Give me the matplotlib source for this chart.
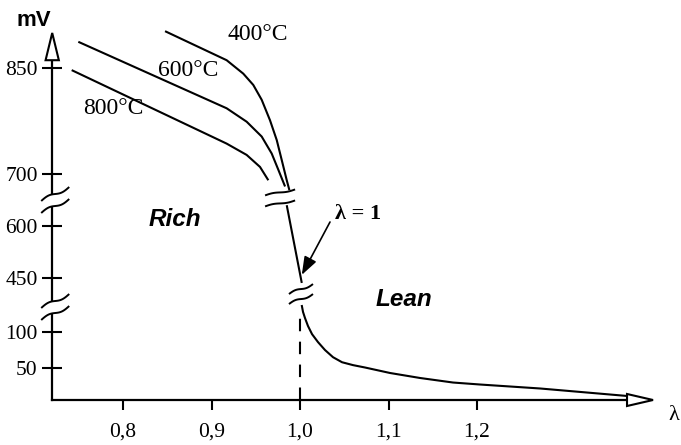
import numpy as np
import matplotlib
matplotlib.use("Agg")
import matplotlib.pyplot as plt
from matplotlib.patches import Polygon
from matplotlib.transforms import IdentityTransform

# sensor voltage (mV) vs air ratio lambda
lam_400 = [0.8475, 0.9171, 0.9359, 0.9472, 0.9567, 0.9661, 0.9737, 0.9793, 0.9850, 0.9880]
mv_400 = [902, 861, 842, 826, 805, 776, 748, 720, 688, 669]
lam_600 = [0.7495, 0.9171, 0.9397, 0.9567, 0.9680, 0.9755, 0.9831]
mv_600 = [887, 793, 774, 753, 729, 706, 676]
lam_800 = [0.742, 0.9171, 0.9397, 0.9548, 0.9642]
mv_800 = [847, 743, 727, 710, 688]
lam_jump = [0.985, 1.002]
mv_jump = [640, 418]
lam_lean = [1.0019, 1.0034, 1.0056, 1.0090, 1.0136, 1.0203, 1.0282, 1.0373, 1.0475,
            1.0599, 1.0734, 1.1017, 1.1356, 1.1729, 1.2034, 1.2712, 1.3695]
mv_lean = [275, 230, 191, 139, 97, 86, 75, 65, 58, 54, 50.7, 42.2, 34.4, 27.3, 24.2, 18, 6.3]

x_ticks = [0.8, 0.9, 1.0, 1.1, 1.2]
x_labels = ["0,8", "0,9", "1,0", "1,1", "1,2"]
y_ticks = [50, 100, 450, 600, 700, 850]
y_labels = ["50", "100", "450", "600", "700", "850"]

# broken y axis: every segment has its own scale
MV_KNOTS = [-200, 0, 50, 100, 450, 600, 700, 850, 1100]
U_KNOTS = [-128, 0, 32, 68, 122, 174, 226, 332, 509]


def fwd(v):
    return np.interp(v, MV_KNOTS, U_KNOTS)


def inv(u):
    return np.interp(u, U_KNOTS, MV_KNOTS)


def draw_break(ax, x, y, half_w, gap, rise, xoff=0.0, lw=1.4):
    cx, cy = ax.transData.transform((x, y))
    cx += xoff
    t = np.linspace(-1, 1, 40)
    dx = cx + half_w * t
    dy = cy + rise * (t - 0.8 / np.pi * np.sin(np.pi * t))
    verts = np.vstack([np.column_stack([dx, dy + gap / 2]),
                       np.column_stack([dx[::-1], dy[::-1] - gap / 2])])
    ax.add_patch(Polygon(verts, closed=True, fc="white", ec="none",
                         transform=IdentityTransform(), zorder=5))
    for off in (gap / 2, -gap / 2):
        ax.plot(dx, dy + off, color="black", lw=lw, transform=IdentityTransform(),
                zorder=6, solid_capstyle="butt")


serif = "Liberation Serif"
sans = "Liberation Sans"

fig = plt.figure(figsize=(6.81, 4.45), dpi=100)
ax = fig.add_axes([0, 0, 1, 1])
ax.set_yscale("function", functions=(fwd, inv))
ax.set_xlim(0.661, 1.4305)
ax.set_ylim(inv(-45), inv(400))

for s in ("top", "right"):
    ax.spines[s].set_visible(False)
ax.spines["left"].set_position(("data", 0.72))
ax.spines["left"].set_bounds(0, 861)
ax.spines["bottom"].set_position(("data", 0))
ax.spines["bottom"].set_bounds(0.72, 1.3695)
for s in ("left", "bottom"):
    ax.spines[s].set_linewidth(1.6)

ax.set_xticks(x_ticks, x_labels, fontfamily=serif, fontsize=15.5)
ax.set_yticks(y_ticks, y_labels, fontfamily=serif, fontsize=15.5)
ax.tick_params(axis="x", direction="out", length=7, width=1.5, pad=9)
ax.tick_params(axis="y", direction="inout", length=14, width=1.5, pad=3.5)

kw = dict(color="black", lw=1.5, solid_capstyle="butt", solid_joinstyle="round")
ax.plot(lam_400, mv_400, **kw)
ax.plot(lam_600, mv_600, **kw)
ax.plot(lam_800, mv_800, **kw)
ax.plot(lam_jump, mv_jump, **kw)
ax.plot(lam_lean, mv_lean, **kw)
ax.plot([1.0, 1.0], [0, 230], color="black", lw=1.5, dashes=(6, 5))

# axis arrows (open heads)
ax.add_patch(Polygon([(0.7125, 861), (0.7275, 861), (0.72, 899.5)], closed=True,
                     fc="white", ec="black", lw=1.5, zorder=4))
ax.add_patch(Polygon([(1.3695, -9.4), (1.3695, 9.4), (1.3989, 0)], closed=True,
                     fc="white", ec="black", lw=1.5, zorder=4))

ax.annotate("", xy=(1.002, 459), xytext=(1.0339, 607.7),
            arrowprops=dict(arrowstyle="-|>,head_length=1.1,head_width=0.4",
                            color="black", lw=1.2, shrinkA=0, shrinkB=0))

fig.canvas.draw()
draw_break(ax, 0.72, 650, 14, 12, 7, xoff=3)
draw_break(ax, 0.72, 262, 14, 12, 7, xoff=3)
draw_break(ax, 0.9775, 654, 15, 11, 3)
draw_break(ax, 1.0011, 346, 12, 10, 5)


def put(px, py, s, **k):
    ax.text(px / 681, 1 - py / 445, s, transform=ax.transAxes,
            ha=k.pop("ha", "center"), va=k.pop("va", "center"), **k)


put(258, 35, "400°C", fontfamily=serif, fontsize=17)
put(188, 70, "600°C", fontfamily=serif, fontsize=17)
put(113, 108, "800°C", fontfamily=serif, fontsize=17)
put(175, 219, "Rich", fontfamily=sans, fontsize=17.5, fontweight="bold", fontstyle="italic")
put(404, 300, "Lean", fontfamily=sans, fontsize=17.5, fontweight="bold", fontstyle="italic")
put(34, 21, "mV", fontfamily=sans, fontsize=16, fontweight="bold")
put(358, 214, "λ = 1", fontfamily=serif, fontsize=16, fontweight="bold")
put(668, 415, "λ", fontfamily=serif, fontsize=16, ha="left")

fig.savefig("out.png", dpi=100)
